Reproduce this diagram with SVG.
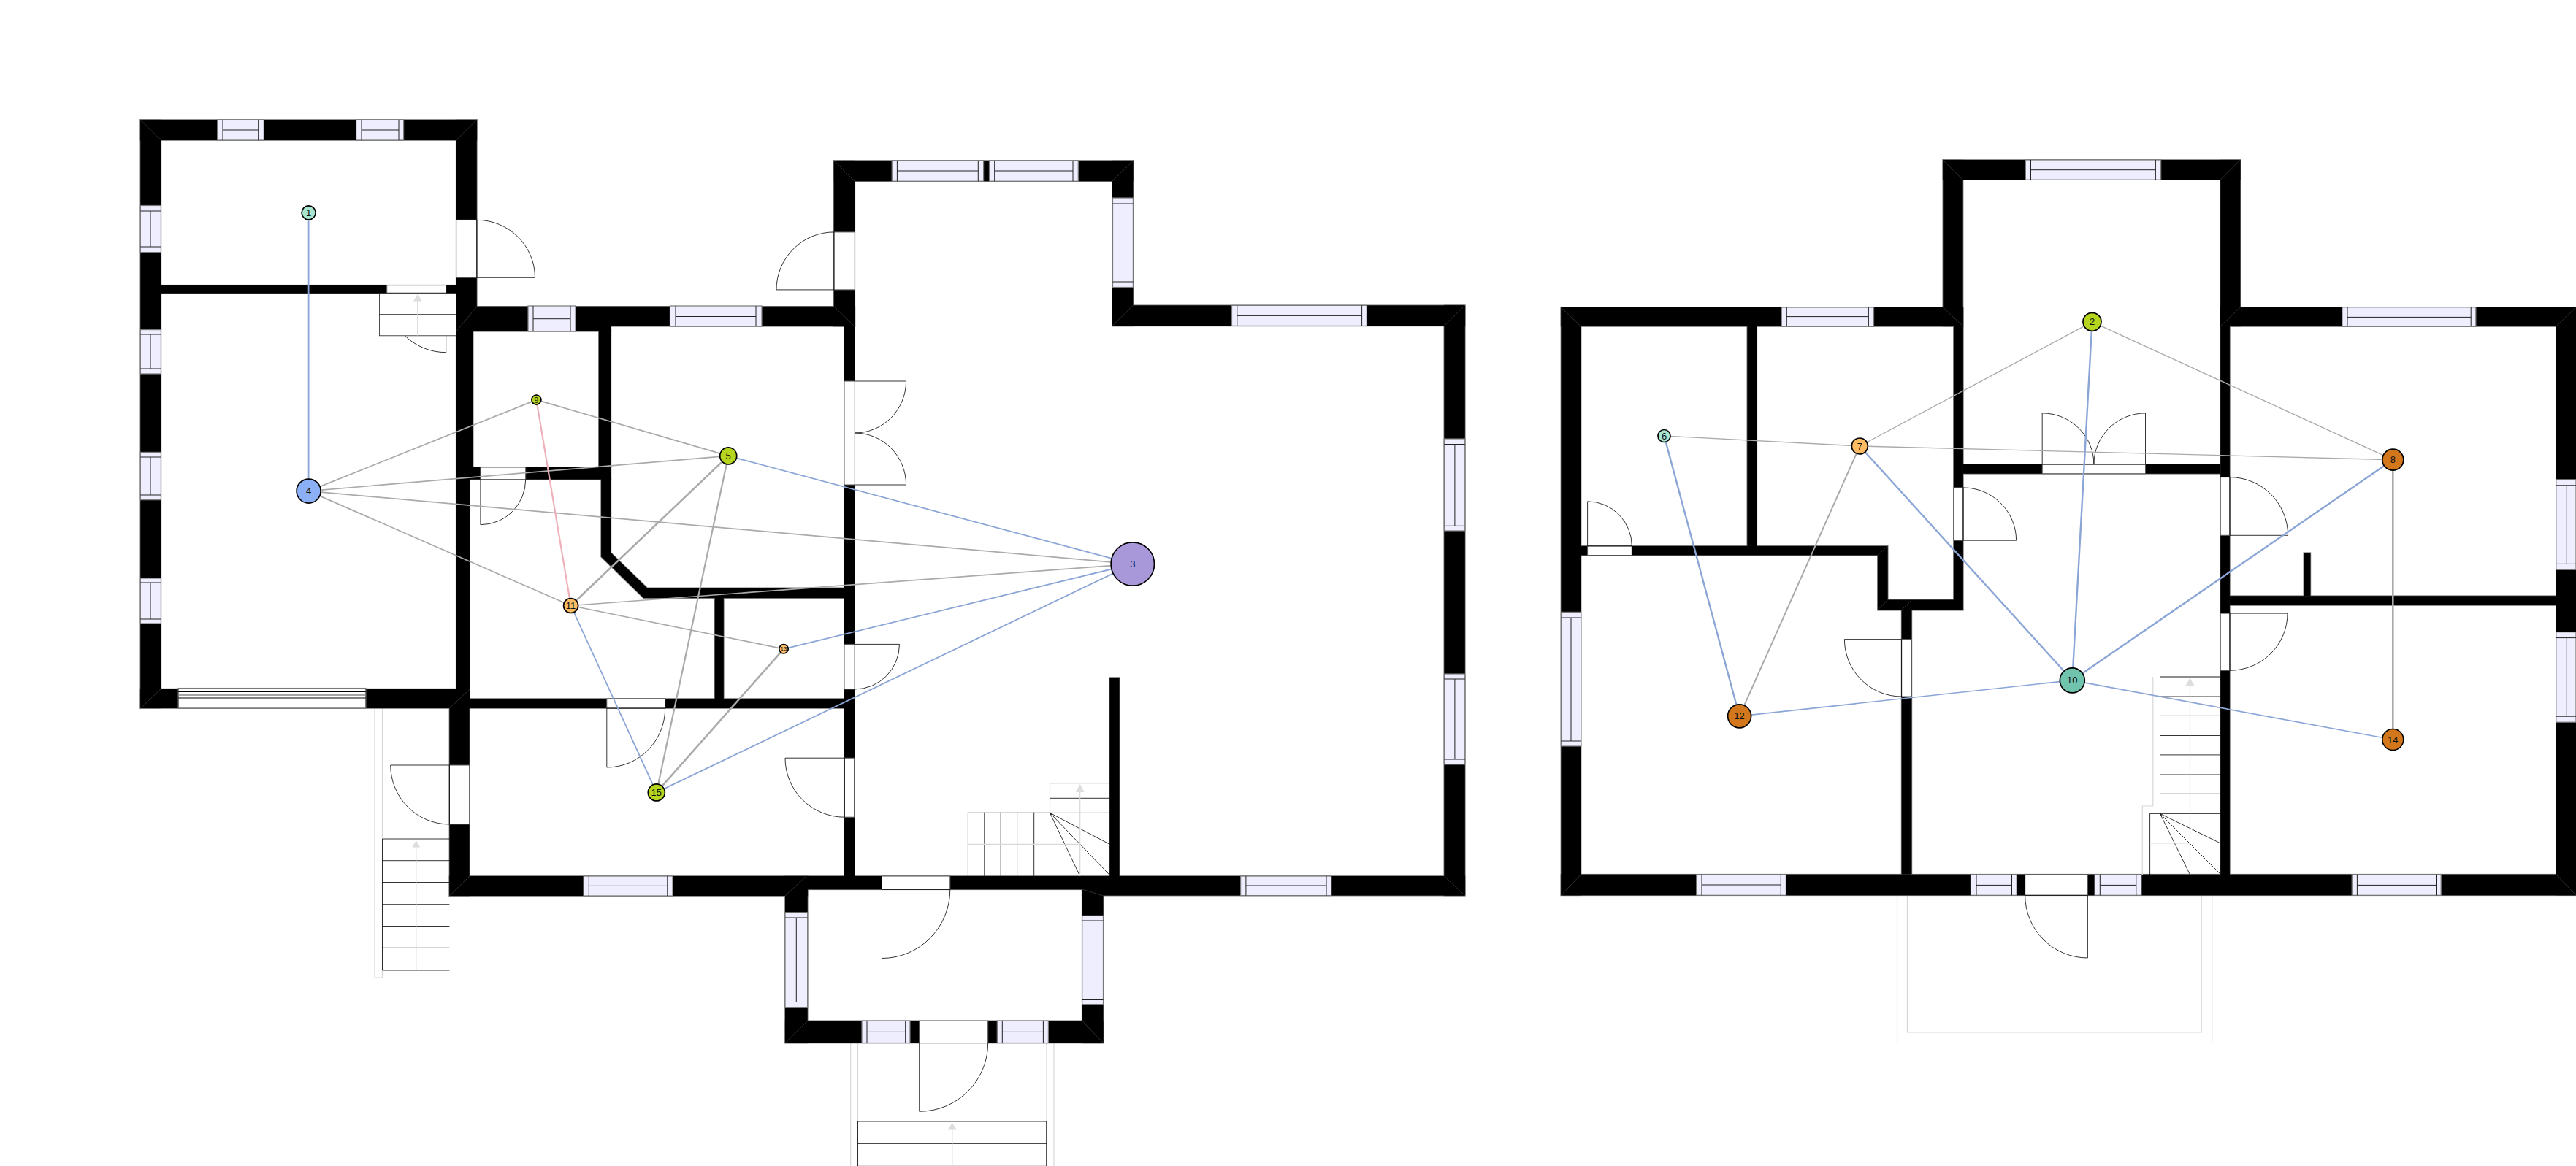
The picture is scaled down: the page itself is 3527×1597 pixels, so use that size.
<svg xmlns="http://www.w3.org/2000/svg" width="3527" height="1597" viewBox="0 0 3527 1597">
<style>
.wo{stroke:#777;stroke-width:1.6;fill:#000}
.wi{fill:#000;stroke:none}
.m{stroke:#444;stroke-width:.7;fill:none}
.w{fill:#eef;stroke:#777;stroke-width:1.2}
.wl{fill:none;stroke:#222;stroke-width:1}
.o{fill:#fff;stroke:#555;stroke-width:1}
.d{fill:none;stroke:#000;stroke-width:.8}
.s{fill:#fff;stroke:#222;stroke-width:.8}
.g{fill:none;stroke:#d8d8d8;stroke-width:1.2}
.a{fill:#ddd;stroke:none}
.e{fill:none;stroke-linecap:butt}
.b{stroke:#8aa5d6}.y{stroke:#aaa}.p{stroke:#eeb0b8}
.n{stroke:#000;stroke-width:1.7}
text{font-family:"Liberation Sans",Arial,sans-serif;text-anchor:middle;dominant-baseline:central;fill:#111;font-size:13px}
</style>
<defs>
<g id="walls">
<rect x="192.3" y="164" width="28.1" height="806"/>
<rect x="192.3" y="164" width="460.5" height="28"/>
<rect x="624.7" y="164" width="28.1" height="256"/>
<rect x="624.7" y="419.8" width="211.7" height="34"/>
<rect x="836.4" y="419.8" width="334" height="27"/>
<rect x="624.7" y="453" width="23" height="187"/>
<rect x="624.7" y="640" width="18.5" height="330"/>
<rect x="192.3" y="943.6" width="450.7" height="26.4"/>
<rect x="220.4" y="390.7" width="404.3" height="11"/>
<rect x="615.4" y="970" width="27.3" height="257"/>
<rect x="643" y="957" width="513.3" height="13"/>
<rect x="643" y="640" width="193.4" height="16.7"/>
<rect x="819.9" y="453" width="16.5" height="187"/>
<path d="M823.1 656H836.4V757.1L886.2 805.4H1156.6V819.1H881.1L823.1 762.6Z"/>
<rect x="978.7" y="819" width="12.1" height="138"/>
<rect x="1156" y="447" width="14" height="753"/>
<rect x="1141.8" y="220" width="28.5" height="227"/>
<rect x="1141.8" y="220" width="409.6" height="28.2"/>
<rect x="1523" y="220" width="28.4" height="226.4"/>
<rect x="1523" y="418.3" width="482.8" height="28.1"/>
<rect x="1977.3" y="418.3" width="28.5" height="808.3"/>
<rect x="615.4" y="1200" width="490.3" height="27"/>
<rect x="1105" y="1200" width="377" height="18.3"/>
<rect x="1481.7" y="1200" width="524.1" height="26.6"/>
<rect x="1075" y="1200" width="30.7" height="228.5"/>
<rect x="1481.7" y="1218" width="28.8" height="210.5"/>
<rect x="1075" y="1398.3" width="435.5" height="30.2"/>
<rect x="1519.3" y="928" width="13.3" height="272"/>
<rect x="2137.4" y="421" width="27.2" height="805.3"/>
<rect x="2137.4" y="421" width="550.5" height="26"/>
<rect x="2660.3" y="219" width="27.3" height="228"/>
<rect x="2660.3" y="219" width="407.1" height="27.2"/>
<rect x="3040.2" y="219" width="27.2" height="228"/>
<rect x="3040.2" y="420.8" width="486.8" height="26.2"/>
<rect x="3499.8" y="420.8" width="27.2" height="805.4"/>
<rect x="2137.4" y="1197.7" width="1389.6" height="28.6"/>
<rect x="2392.3" y="447" width="13" height="301"/>
<path d="M2164.6 747.9H2584.7V821.5H2674.9V447H2687.9V835.6H2570.9V760.5H2164.6Z"/>
<rect x="2603.6" y="835.6" width="13.8" height="362"/>
<rect x="2687.5" y="636" width="352.7" height="12.8"/>
<rect x="3040.2" y="447" width="12.7" height="751"/>
<rect x="3052.9" y="816.2" width="447" height="12.8"/>
<rect x="3154.3" y="757.2" width="9.1" height="59"/>
</g>
</defs>
<rect width="3527" height="1597" fill="#fff"/>
<g id="exterior">
<path class="g" d="M513 970V1339H523.5M523.5 970V1339"/>
<path class="g" d="M1164.7 1428.5V1597M1174.5 1428.5V1597M1433 1428.5V1597M1443 1428.5V1597"/>
<path class="g" d="M2597.5 1226V1428.5H3028.7V1226M2611.4 1226V1414H3014.2V1226"/>
</g>
<g id="walls-shape">
<use href="#walls" class="wo"/>
<use href="#walls" class="wi" style="fill:#000;stroke:none"/>
<path class="m" d="M192.3 164L220.4 192M652.8 164L624.7 192M192.3 970L220.4 943.6M652.8 420L624.7 454M643 944L615.4 970M615.4 1227L643 1200M1141.8 220L1170 248M1551.4 220L1523 248M1523 446.4L1551.4 418.3M2005.8 418.3L1977.3 446.4M2005.8 1226.6L1977.3 1200M1142 420L1170 447M1075 1227L1104 1200M1075 1428.5L1105.7 1398.3M1510.5 1428.5L1481.7 1398.3M1481.7 1218L1510.5 1227M2137.4 421L2164.6 447M2137.4 1226.3L2164.6 1197.7M2660.3 219L2687.5 246.2M3067.4 219L3040.2 246.2M2660.3 421L2687.9 447M3067.4 420.8L3040.2 447M3527 420.8L3499.8 447M3527 1226.3L3499.8 1197.7M2570.9 835.6L2584.7 821.5M2603.6 835.6L2617.4 821.5M2570.9 760.5L2584.7 747.9"/>
</g>
<g id="windows">
<rect class="w" x="297.6" y="164" width="63.7" height="28"/><path class="wl" d="M305 164V192M353.7 164V192M305 178H353.7"/>
<rect class="w" x="487.6" y="164" width="65" height="28"/><path class="wl" d="M495 164V192M546 164V192M495 178H546"/>
<rect class="w" x="192.3" y="281.5" width="28.1" height="64.2"/><path class="wl" d="M192.3 289H220.4M192.3 338H220.4M206 289V338"/>
<rect class="w" x="192.3" y="451.6" width="28.1" height="60.4"/><path class="wl" d="M192.3 458H220.4M192.3 505H220.4M206 458V505"/>
<rect class="w" x="192.3" y="619.4" width="28.1" height="65.3"/><path class="wl" d="M192.3 626H220.4M192.3 678H220.4M206 626V678"/>
<rect class="w" x="192.3" y="792" width="28.1" height="62"/><path class="wl" d="M192.3 798H220.4M192.3 848H220.4M206 798V848"/>
<rect x="244.3" y="942.7" width="256.4" height="27.3" fill="#fff" stroke="#777" stroke-width="1.5"/>
<path d="M244.3 947.5H500.7M244.3 956H500.7" stroke="#000" stroke-width="1.2" fill="none"/><path d="M244.3 952H500.7" stroke="#888" stroke-width="1.5" fill="none"/>
<rect class="w" x="723" y="419" width="65" height="34.8"/><path class="wl" d="M730 419V453.8M781 419V453.8M730 436.7H781"/>
<rect class="w" x="917.4" y="419" width="125.6" height="28"/><path class="wl" d="M925 419V447M1035 419V447M925 433.5H1035"/>
<rect class="w" x="1221.2" y="220" width="125.4" height="28.2"/><path class="wl" d="M1228.4 220V248.2M1339.3 220V248.2M1228.4 234H1339.3"/>
<rect class="w" x="1354.5" y="220" width="121.8" height="28.2"/><path class="wl" d="M1361.7 220V248.2M1469 220V248.2M1361.7 234H1469"/>
<rect class="w" x="1523.5" y="271" width="27.9" height="122.5"/><path class="wl" d="M1523.5 279H1551.4M1523.5 386H1551.4M1537.5 279V386"/>
<rect class="w" x="1686.5" y="418.3" width="184.8" height="28.1"/><path class="wl" d="M1693.8 418.3V446.4M1864.6 418.3V446.4M1693.8 432.4H1864.6"/>
<rect class="w" x="1977.3" y="601" width="28.5" height="126"/><path class="wl" d="M1977.3 608.5H2005.8M1977.3 720.3H2005.8M1991.9 608.5V720.3"/>
<rect class="w" x="1977.3" y="923" width="28.5" height="124"/><path class="wl" d="M1977.3 930H2005.8M1977.3 1040H2005.8M1991.9 930V1040"/>
<rect class="w" x="1698.6" y="1200" width="124.2" height="26.6"/><path class="wl" d="M1705.9 1200V1226.6M1816 1200V1226.6M1705.9 1213H1816"/>
<rect class="w" x="799" y="1200" width="122" height="27"/><path class="wl" d="M806.3 1200V1227M913.8 1200V1227M806.3 1213.4H913.8"/>
<rect class="w" x="1075" y="1249.8" width="30.7" height="129.8"/><path class="wl" d="M1075 1257H1105.7M1075 1372.5H1105.7M1090.3 1257V1372.5"/>
<rect class="w" x="1481.7" y="1254.3" width="28.8" height="121.3"/><path class="wl" d="M1481.7 1261H1510.5M1481.7 1368.5H1510.5M1496.5 1261V1368.5"/>
<rect class="w" x="1180" y="1398.3" width="66" height="30.2"/><path class="wl" d="M1187 1398.3V1428.5M1239.7 1398.3V1428.5M1187 1413.4H1239.7"/>
<rect class="w" x="1365.3" y="1398.3" width="70.1" height="30.2"/><path class="wl" d="M1372.3 1398.3V1428.5M1428.4 1398.3V1428.5M1372.3 1413.4H1428.4"/>
<rect class="w" x="2439.2" y="421" width="126.3" height="26"/><path class="wl" d="M2446.3 421V447M2558.4 421V447M2446.3 433.6H2558.4"/>
<rect class="w" x="2137.4" y="838.4" width="27.2" height="183.6"/><path class="wl" d="M2137.4 846H2164.6M2137.4 1015H2164.6M2151 846V1015"/>
<rect class="w" x="2322.7" y="1197.7" width="122.7" height="28.6"/><path class="wl" d="M2330 1197.7V1226.3M2438.3 1197.7V1226.3M2330 1212H2438.3"/>
<rect class="w" x="2698.4" y="1197.7" width="62.8" height="28.6"/><path class="wl" d="M2706 1197.7V1226.3M2754.5 1197.7V1226.3M2706 1212.4H2754.5"/>
<rect class="w" x="2868" y="1197.7" width="64" height="28.6"/><path class="wl" d="M2875.3 1197.7V1226.3M2924.8 1197.7V1226.3M2875.3 1212.4H2924.8"/>
<rect class="w" x="2773.3" y="219" width="185.4" height="27.2"/><path class="wl" d="M2780.5 219V246.2M2951.4 219V246.2M2780.5 232.7H2951.4"/>
<rect class="w" x="3206.9" y="420.8" width="183" height="26.2"/><path class="wl" d="M3214 420.8V447M3383.2 420.8V447M3214 434.4H3383.2"/>
<rect class="w" x="3499.8" y="656.8" width="27.2" height="123.6"/><path class="wl" d="M3499.8 664.8H3527M3499.8 772.4H3527M3514.3 664.8V772.4"/>
<rect class="w" x="3499.8" y="865.7" width="27.2" height="123.5"/><path class="wl" d="M3499.8 873.6H3527M3499.8 981.2H3527M3514.3 873.6V981.2"/>
<rect class="w" x="3220.2" y="1197.7" width="122" height="28.6"/><path class="wl" d="M3227.4 1197.7V1226.3M3335.5 1197.7V1226.3M3227.4 1212.4H3335.5"/>
</g>
<g id="doors">
<rect class="o" x="624.7" y="301.3" width="28.1" height="79"/><path class="d" d="M652.8 301.3A79.7 79 0 0 1 732.5 380.3H652.8Z"/>
<path class="d" d="M610.7 401.7V482.7A81 81 0 0 1 529.7 401.7"/><rect class="o" x="529.7" y="390.7" width="81" height="10.5"/>
<rect class="o" x="657.9" y="640" width="61.8" height="16.7"/><path class="d" d="M657.9 656.7V718.7A61.8 62 0 0 0 719.7 656.7"/>
<rect class="o" x="830.8" y="957" width="79.9" height="13"/><path class="d" d="M830.8 970V1051A79.9 81 0 0 0 910.7 970Z"/>
<rect class="o" x="615.4" y="1048" width="27.3" height="81"/><path class="d" d="M615.4 1048H534.7A80.7 81 0 0 0 615.4 1129Z"/>
<rect class="o" x="1156.3" y="1038.2" width="13.3" height="81"/><path class="d" d="M1156.3 1038.2H1075A81.3 81 0 0 0 1156.3 1119.2Z"/>
<rect class="o" x="1141.8" y="317.9" width="28.5" height="79"/><path class="d" d="M1142 396.9H1063A79 79 0 0 1 1142 317.9Z"/>
<rect class="o" x="1156" y="522" width="14.3" height="142"/><path class="d" d="M1170.3 522H1240.6A70.3 71 0 0 1 1170.3 593A70.3 71 0 0 1 1240.6 664H1170.3"/>
<rect class="o" x="1156" y="882.4" width="14.3" height="61.6"/><path class="d" d="M1170.3 882.4H1231.5A61.2 61.6 0 0 1 1170.3 944Z"/>
<rect class="o" x="1207.5" y="1200" width="93.3" height="18.3"/><path class="d" d="M1207.5 1218.3V1312.5A93.3 94.2 0 0 0 1300.8 1218.3Z"/>
<rect class="o" x="1258.7" y="1398.3" width="94" height="30.2"/><path class="d" d="M1258.7 1428.5V1522.3A94 93.8 0 0 0 1352.7 1428.5Z"/>
<rect class="o" x="2173.6" y="747.9" width="60.7" height="12.6"/><path class="d" d="M2173.6 747.9V686.8A60.7 61.1 0 0 1 2234.3 747.9Z"/>
<rect class="o" x="2603.6" y="875.6" width="13.8" height="78.4"/><path class="d" d="M2603.6 875.6H2525.4A78.2 78.4 0 0 0 2603.6 954Z"/>
<rect class="o" x="2674.9" y="667.9" width="13" height="72.3"/><path class="d" d="M2687.9 740.2H2760.6A72.7 72.3 0 0 0 2687.9 667.9Z"/>
<rect class="o" x="2796.2" y="636" width="141.3" height="12.8"/><path class="d" d="M2796.2 636V565.9A70.7 70.1 0 0 1 2866.9 636A70.6 70.1 0 0 1 2937.5 565.9V636Z"/>
<rect class="o" x="3040.2" y="653.6" width="12.7" height="79.7"/><path class="d" d="M3052.9 733.3H3132.6A79.7 79.7 0 0 0 3052.9 653.6Z"/>
<rect class="o" x="3040.2" y="840.1" width="12.7" height="78.2"/><path class="d" d="M3052.9 840.1H3132A79.1 78.2 0 0 1 3052.9 918.3Z"/>
<rect class="o" x="2772.7" y="1197.7" width="85.7" height="28.6"/><path class="d" d="M2858.4 1226.3V1312A85.7 85.7 0 0 1 2772.7 1226.3Z"/>
</g>
<g id="stairs">
<rect class="s" x="519.5" y="401.7" width="105.2" height="58.1"/><path class="d" d="M519.5 430.7H624.7"/>
<path class="g" d="M571.8 459.8V412"/><path class="a" d="M571.8 402.7L577.8 412.6H565.8Z"/>
<path class="d" d="M523.5 1149H615.4M523.5 1178.7H615.4M523.5 1208.5H615.4M523.5 1238.7H615.4M523.5 1268.5H615.4M523.5 1298.3H615.4M523.5 1329H615.4M523.5 1149V1329"/>
<path class="g" d="M569.8 1329V1160"/><path class="a" d="M569.8 1151L575.3 1160.5H564.3Z"/>
<path class="g" d="M1325.4 1112.7H1437.5V1073H1519"/>
<path class="d" d="M1325.4 1112.7V1199.8M1347.8 1112.7V1199.8M1370.2 1112.7V1199.8M1392.6 1112.7V1199.8M1415.7 1112.7V1199.8M1437.5 1112.7V1199.8M1437.5 1093.3H1519.3M1437.5 1113.4H1519.3M1437.5 1113.4L1519.3 1156.3M1437.5 1113.4L1519.3 1198.5M1437.5 1113.4L1478.7 1200"/>
<path class="g" d="M1325.4 1156.3H1478.7M1478.7 1200V1085"/><path class="a" d="M1478.7 1074L1484.7 1085H1472.7Z"/>
<path class="d" d="M1174.5 1536H1432.7V1597M1174.5 1536V1597M1174.5 1566.4H1432.7M1174.5 1595.7H1432.7"/>
<path class="g" d="M1303.8 1597V1547"/><path class="a" d="M1303.8 1538L1309.8 1547.6H1297.8Z"/>
<path class="g" d="M2947.8 927V1104H2933.3V1198M2957.5 927H3040"/>
<path class="d" d="M2957.5 927V1198M2957.5 927H3040.2M2957.5 954H3040.2M2957.5 980.4H3040.2M2957.5 1007.5H3040.2M2957.5 1033.9H3040.2M2957.5 1061H3040.2M2957.5 1087.3H3040.2M2957.5 1114.4H3040.2M2943.6 1114.4H2957.5M2943.6 1114.4V1198M2957.5 1114.4L3040.2 1155M2957.5 1114.4L3040.2 1197.3M2957.5 1114.4L2998.5 1198"/>
<path class="g" d="M2943.6 1155H2998.5M2998.5 1198V939"/><path class="a" d="M2998.5 928.6L3004.5 939H2992.5Z"/>
</g>
<g id="connectors" class="e">
<path class="b" stroke-width="1.8" d="M422.6 291.4V672.6"/>
<path class="y" stroke-width="1.7" d="M422.6 672.6L734.4 547.6"/>
<path class="y" stroke-width="1.7" d="M734.4 547.6L997.2 624.4"/>
<path class="y" stroke-width="1.7" d="M422.6 672.6L997.2 624.4"/>
<path class="y" stroke-width="1.7" d="M422.6 672.6L1550.8 772.5"/>
<path class="y" stroke-width="1.7" d="M422.6 672.6L781.6 829.5"/>
<path class="p" stroke-width="2.2" d="M734.4 547.6L781.6 829.5"/>
<path class="y" stroke-width="2.6" d="M781.6 829.5L997.2 624.4"/>
<path class="y" stroke-width="1.7" d="M781.6 829.5L1550.8 772.5"/>
<path class="y" stroke-width="1.7" d="M781.6 829.5L1073 888.8"/>
<path class="y" stroke-width="2.2" d="M997.2 624.4L898.8 1085.4"/>
<path class="y" stroke-width="2.6" d="M1073 888.8L898.8 1085.4"/>
<path class="b" stroke-width="1.8" d="M781.6 829.5L898.8 1085.4"/>
<path class="b" stroke-width="1.8" d="M997.2 624.4L1550.8 772.5"/>
<path class="b" stroke-width="1.8" d="M1073 888.8L1550.8 772.5"/>
<path class="b" stroke-width="1.8" d="M898.8 1085.4L1550.8 772.5"/>
<path class="y" stroke-width="1.4" d="M2278.5 597L2546.3 611"/>
<path class="y" stroke-width="1.4" d="M2546.3 611L3276.3 629.7"/>
<path class="y" stroke-width="1.4" d="M2546.3 611L2864.5 440.8"/>
<path class="y" stroke-width="1.4" d="M2864.5 440.8L3276.3 629.7"/>
<path class="y" stroke-width="2" d="M2546.3 611L2381.6 980.8"/>
<path class="y" stroke-width="2.6" d="M3276.3 629.7V1013"/>
<path class="b" stroke-width="2.4" d="M2278.5 597L2381.6 980.8"/>
<path class="b" stroke-width="2.4" d="M2546.3 611L2837.3 931.8"/>
<path class="b" stroke-width="2.4" d="M2864.5 440.8L2837.3 931.8"/>
<path class="b" stroke-width="2.4" d="M3276.3 629.7L2837.3 931.8"/>
<path class="b" stroke-width="1.7" d="M2381.6 980.8L2837.3 931.8"/>
<path class="b" stroke-width="1.7" d="M2837.3 931.8L3276.3 1013"/>
</g>
<g id="node-1"><circle class="n" cx="422.6" cy="291.4" r="9.5" fill="#a8e6cf"/><text x="422.6" y="291.4">1</text></g>
<g id="node-2"><circle class="n" cx="2864.5" cy="440.8" r="12.5" fill="#b5d51f"/><text x="2864.5" y="440.8">2</text></g>
<g id="node-3"><circle class="n" cx="1550.8" cy="772.5" r="29.7" fill="#a898da"/><text x="1550.8" y="772.5">3</text></g>
<g id="node-4"><circle class="n" cx="422.6" cy="672.6" r="16.5" fill="#8cb0f5"/><text x="422.6" y="672.6">4</text></g>
<g id="node-5"><circle class="n" cx="997.2" cy="624.4" r="11.5" fill="#b5d51f"/><text x="997.2" y="624.4">5</text></g>
<g id="node-6"><circle class="n" cx="2278.5" cy="597" r="8.5" fill="#a8e6cf"/><text x="2278.5" y="597">6</text></g>
<g id="node-7"><circle class="n" cx="2546.3" cy="611" r="11" fill="#fdbb63"/><text x="2546.3" y="611">7</text></g>
<g id="node-8"><circle class="n" cx="3276.3" cy="629.7" r="14.5" fill="#d3771c"/><text x="3276.3" y="629.7">8</text></g>
<g id="node-9"><circle class="n" cx="734.4" cy="547.6" r="6.5" fill="#b5d51f"/><text x="734.4" y="547.6" style="font-size:11px">9</text></g>
<g id="node-10"><circle class="n" cx="2837.3" cy="931.8" r="17" fill="#70c4ae"/><text x="2837.3" y="931.8">10</text></g>
<g id="node-11"><circle class="n" cx="781.6" cy="829.5" r="10" fill="#fdbb63"/><text x="781.6" y="829.5">11</text></g>
<g id="node-12"><circle class="n" cx="2381.6" cy="980.8" r="16" fill="#d3771c"/><text x="2381.6" y="980.8">12</text></g>
<g id="node-13"><circle class="n" cx="1073" cy="888.8" r="6.2" fill="#fdbb63"/><text x="1073" y="888.8" style="font-size:8px">13</text></g>
<g id="node-14"><circle class="n" cx="3276.3" cy="1013" r="14.5" fill="#d3771c"/><text x="3276.3" y="1013">14</text></g>
<g id="node-15"><circle class="n" cx="898.8" cy="1085.4" r="11.5" fill="#b5d51f"/><text x="898.8" y="1085.4">15</text></g>
</svg>
